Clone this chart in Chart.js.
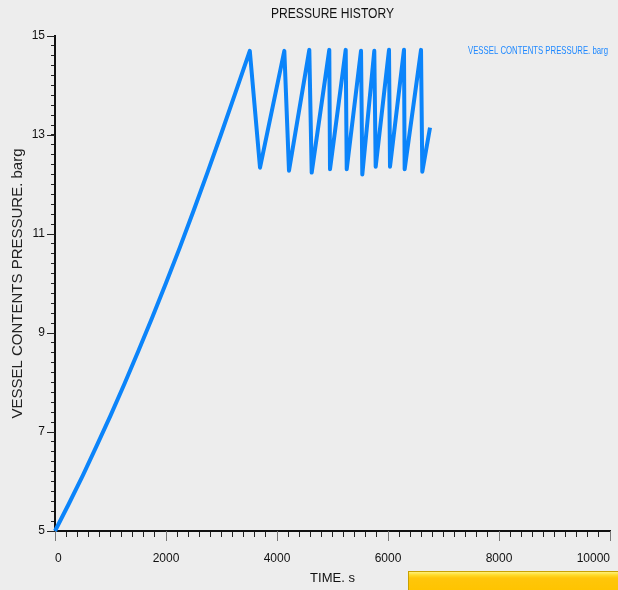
<!DOCTYPE html>
<html>
<head>
<meta charset="utf-8">
<script src="https://cdn.jsdelivr.net/npm/chart.js@4"></script>
<style>
  body { margin: 0; background: #ededed; }
  #wrap { position: relative; width: 618px; height: 590px; }
  #yellowBar {
    position: absolute; left: 408px; top: 571px; width: 210px; height: 19px;
    box-sizing: border-box; border: 1px solid #c9a100; border-right: none; border-bottom: none;
    background: linear-gradient(#fff07a 0px, #ffdc2a 3px, #ffc60a 6px, #ffc400 100%);
  }
</style>
</head>
<body>
<div id="wrap">
  <canvas id="pressureChart" width="618" height="590"></canvas>
  <div id="yellowBar"></div>
</div>
<script>
let pressureChart = document.querySelector("#pressureChart");
let times = [0, 250, 500, 750, 1000, 1250, 1500, 1750, 2000, 2250, 2500, 2750, 3000, 3250, 3510,
  3694, 4132, 4216, 4582, 4625, 4942, 4955, 5238, 5256, 5514, 5537, 5753, 5778, 6018, 6036,
  6288, 6300, 6595, 6618, 6757];
let pressure = [5.0, 5.55, 6.12, 6.72, 7.33, 7.97, 8.63, 9.31, 10.01, 10.73, 11.48, 12.25, 13.04, 13.85, 14.70,
  12.34, 14.70, 12.28, 14.72, 12.24, 14.72, 12.31, 14.72, 12.31, 14.70, 12.20, 14.70, 12.36, 14.72, 12.36,
  14.72, 12.31, 14.72, 12.26, 13.15];
let xMajorTicks = [0, 2000, 4000, 6000, 8000, 10000];
let yMajorTicks = [5, 7, 9, 11, 13, 15];
let seriesLabel = "VESSEL CONTENTS PRESSURE. barg";
let chartTitle = "PRESSURE HISTORY";

let points = times.map((t, i) => ({ x: t, y: pressure[i] }));

// squeeze a text horizontally so it fits a given width (the original uses narrow fonts)
function narrowText(ctx, text, x, y, width, align) {
  let w = ctx.measureText(text).width;
  let k = Math.min(1, width / w);
  ctx.save();
  ctx.translate(x, y);
  ctx.scale(k, 1);
  ctx.textAlign = align;
  ctx.fillText(text, 0, 0);
  ctx.restore();
}

// longer marks for the labelled ticks, title and legend text
let extrasPlugin = {
  id: "extras",
  afterDraw(chart) {
    let ctx = chart.ctx;
    let x = chart.scales.x;
    let y = chart.scales.y;
    ctx.save();
    ctx.lineWidth = 1;
    ctx.strokeStyle = "#777";
    xMajorTicks.forEach((v) => {
      let px = Math.round(x.getPixelForValue(v)) + 0.5;
      ctx.beginPath();
      ctx.moveTo(px, y.bottom);
      ctx.lineTo(px, y.bottom + 10);
      ctx.stroke();
    });
    ctx.strokeStyle = "#222";
    yMajorTicks.forEach((v) => {
      let py = Math.round(y.getPixelForValue(v)) + 0.5;
      ctx.beginPath();
      ctx.moveTo(x.left, py);
      ctx.lineTo(x.left - 8, py);
      ctx.stroke();
    });
    ctx.textBaseline = "middle";
    ctx.fillStyle = "#111";
    ctx.font = "15px 'Liberation Sans', sans-serif";
    narrowText(ctx, chartTitle, (x.left + x.right) / 2, 14, 123, "center");
    ctx.fillStyle = "#1e88ff";
    ctx.font = "11px 'Liberation Sans', sans-serif";
    narrowText(ctx, seriesLabel, 608, 51, 140, "right");
    ctx.restore();
  },
};

new Chart(pressureChart, {
  type: "line",
  data: {
    datasets: [
      {
        label: seriesLabel,
        data: points,
        borderColor: "#0b84fa",
        borderWidth: 4,
        borderJoinStyle: "round",
        pointRadius: 0,
        tension: 0,
        fill: false,
        clip: false,
      },
    ],
  },
  options: {
    responsive: false,
    animation: false,
    layout: {
      padding: { left: 0, right: 8, top: 36, bottom: 0 },
    },
    scales: {
      x: {
        type: "linear",
        min: 0,
        max: 10000,
        afterFit: (scale) => {
          scale.height = 59;
          scale.paddingLeft = 0;
          scale.paddingRight = 0;
        },
        grid: {
          drawOnChartArea: false,
          tickLength: 6,
          tickColor: "#222",
        },
        border: {
          color: "#111",
          width: 2,
        },
        ticks: {
          stepSize: 200,
          autoSkip: false,
          maxRotation: 0,
          align: "inner",
          padding: 14,
          color: "#111",
          font: { size: 12, family: "Liberation Sans" },
          callback: (value) => (value % 2000 === 0 ? value : ""),
        },
        title: {
          display: true,
          text: "TIME. s",
          color: "#111",
          font: { size: 13, family: "Liberation Sans" },
          padding: { top: 0, bottom: 4 },
        },
      },
      y: {
        type: "linear",
        min: 5,
        max: 15,
        afterFit: (scale) => {
          scale.width = 55;
          scale.paddingTop = 0;
          scale.paddingBottom = 0;
        },
        grid: {
          drawOnChartArea: false,
          tickLength: 4,
          tickColor: "#222",
        },
        border: {
          color: "#111",
          width: 2,
        },
        ticks: {
          stepSize: 0.2,
          autoSkip: false,
          padding: 6,
          color: "#111",
          font: { size: 12, family: "Liberation Sans" },
          callback: (value) => {
            let r = Math.round(value);
            return Math.abs(value - r) < 1e-6 && r % 2 === 1 ? r : "";
          },
        },
        title: {
          display: true,
          text: "VESSEL CONTENTS PRESSURE. barg",
          color: "#222",
          font: { size: 15, family: "Liberation Sans" },
          padding: { top: 9, bottom: 0 },
        },
      },
    },
    plugins: {
      legend: {
        display: false,
      },
      tooltip: {
        enabled: false,
      },
    },
  },
  plugins: [extrasPlugin],
});
</script>
</body>
</html>
